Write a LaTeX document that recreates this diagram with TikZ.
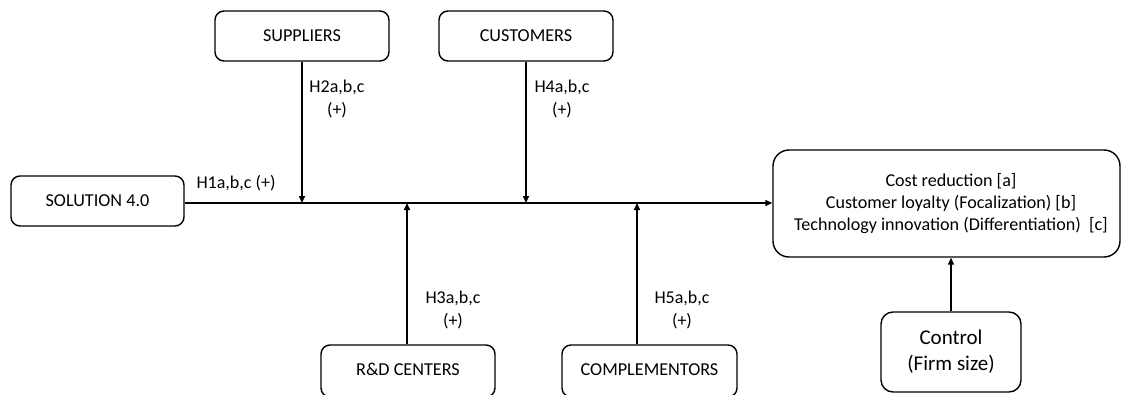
\documentclass[tikz,border=0pt]{standalone}
\usepackage{fontspec}
\setmainfont{Carlito}
\usetikzlibrary{arrows.meta}
\begin{document}
\begin{tikzpicture}[x=1pt,y=-1pt,
  box/.style={draw,line width=1.4pt,rounded corners=9pt,inner sep=0pt,
    font=\fontsize{18.2}{22}\selectfont},
  lbl/.style={align=center,inner sep=0pt,font=\fontsize{18}{23}\selectfont},
  link/.style={line width=1.5pt,-{Triangle[length=7pt,width=6pt]}}]
\useasboundingbox (0,0) rectangle (1121,394);
\clip (0,0) rectangle (1121,394);
% bus line level
\coordinate (bus) at (0,203);
% actors
\node[box,minimum width=173pt,minimum height=50pt] (sol) at (97.5,201) {SOLUTION 4.0};
\node[box,minimum width=174pt,minimum height=50pt] (sup) at (302,36) {SUPPLIERS};
\node[box,minimum width=174pt,minimum height=50pt] (cus) at (526,36) {CUSTOMERS};
\node[box,minimum width=174pt,minimum height=52pt,text height=12pt,text depth=3pt] (rnd) at (408,371) {R\&D CENTERS};
\node[box,minimum width=175pt,minimum height=52pt,text height=12pt,text depth=3pt] (cmp) at (649.5,371) {COMPLEMENTORS};
% outcome: frame, then its three lines set slightly right of centre
\node[box,rounded corners=16pt,minimum width=347pt,minimum height=107pt] (res) at (946.5,203.5) {};
\node[align=center,inner sep=0pt,font=\fontsize{18.1}{22}\selectfont] (restext)
  at ([xshift=4.5pt]res.center)
  {Cost reduction [a]\\Customer loyalty (Focalization) [b]\\Technology innovation (Differentiation)~~[c]};
\node[box,rounded corners=12pt,minimum width=140pt,minimum height=80pt,align=center,
  font=\fontsize{21}{26}\selectfont] (ctl) at (951,352) {Control\\(Firm size)};
% connectors
\draw[link] (sol.east |- bus) -- (res.west |- bus);
\draw[link] (sup.south) -- (sup.south |- bus);
\draw[link] (cus.south) -- (cus.south |- bus);
\draw[link] (rnd.north -| 407,0) -- (407,203);
\draw[link] (cmp.north -| 637,0) -- (637,203);
\draw[link] (ctl.north) -- (ctl.north |- res.south);
% hypothesis labels
\node[lbl] (h1) at (236,183) {H1a,b,c (+)};
\node[lbl] (h2) at (337,98.5) {H2a,b,c\\(+)};
\node[lbl] (h4) at (562,98.5) {H4a,b,c\\(+)};
\node[lbl] (h3) at (453,309.5) {H3a,b,c\\(+)};
\node[lbl] (h5) at (682,309.5) {H5a,b,c\\(+)};
\end{tikzpicture}
\end{document}
